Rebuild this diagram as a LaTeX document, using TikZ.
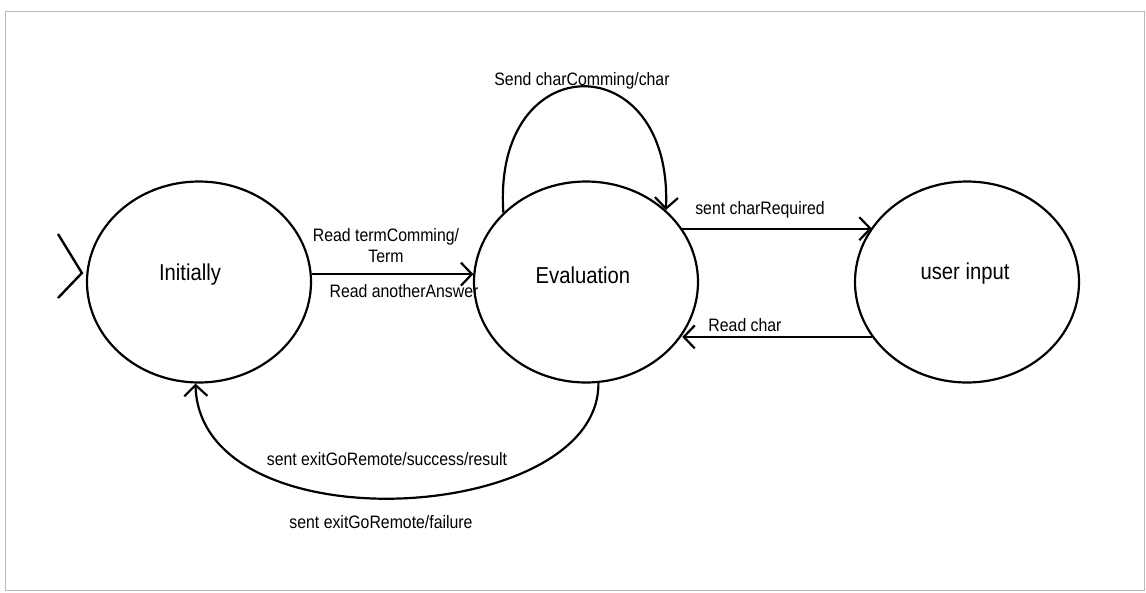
\documentclass[tikz,border=0pt]{standalone}
\usepackage{fontspec}
\setmainfont{Liberation Sans}[FakeStretch=0.88]
\usetikzlibrary{shapes.geometric,arrows.meta}
\begin{document}
\begin{tikzpicture}[x=1pt,y=-1pt,
 state/.style={ellipse,draw,line width=2.2pt,minimum width=224pt,minimum height=201pt,inner sep=0pt},
 statetext/.style={font=\fontsize{23}{27}\selectfont,inner sep=0pt},
 lbl/.style={font=\fontsize{18}{21}\selectfont,inner sep=0pt,align=center},
 conn/.style={line width=2.2pt,-{Straight Barb[length=11pt,width=23pt,line width=2.2pt]}},
 plain/.style={line width=2.4pt}
]
\useasboundingbox (0,0) rectangle (1146,592);
\draw[gray!55,line width=1pt] (5,11) rectangle (1144,590);

% states
\node[state] (init) at (199,282) {};
\node[state] (ev) at (586,282) {};
\node[state] (ui) at (967,282) {};
\node[statetext] (initT) at (190,275) {Initially};
\node[statetext] (evT) at (583,275) {Evaluation};
\node[statetext] (uiT) at (965,274) {user input};

% start marker
\coordinate (s1) at (58,234);
\coordinate (s2) at (58,298);
\draw[plain] (s1) -- ([xshift=-4pt,yshift=9pt]init.west) -- (s2);

% Initially -> Evaluation
\draw[conn] (init.4.6) -- (init.4.6 -| ev.175.3);
\node[lbl] (l1) at (386,246) {Read termComming/\\Term};
\node[lbl] (l2) at (404,291) {Read anotherAnswer};

% self loop
\draw[conn] (ev.140.6) .. controls (492,45) and (673,45) .. (ev.42.3);
\node[lbl] (l3) at (582,81) {Send charComming/char};

% Evaluation -> user input
\draw[conn] (ev.29.6) -- (ev.29.6 -| ui.150.84);
\node[lbl] (l4) at (760,210) {sent charRequired};

% user input -> Evaluation
\draw[conn] (ui.-150.84) -- (ui.-150.84 -| ev.-29.6);
\node[lbl] (l5) at (745,325) {Read char};

% Evaluation -> Initially
\draw[conn] (ev.-83.8) .. controls (600,525) and (200,548) .. (init.-92.3);
\node[lbl] (l6) at (387,459) {sent exitGoRemote/success/result};
\node[lbl] (l7) at (381,522) {sent exitGoRemote/failure};
\end{tikzpicture}
\end{document}
